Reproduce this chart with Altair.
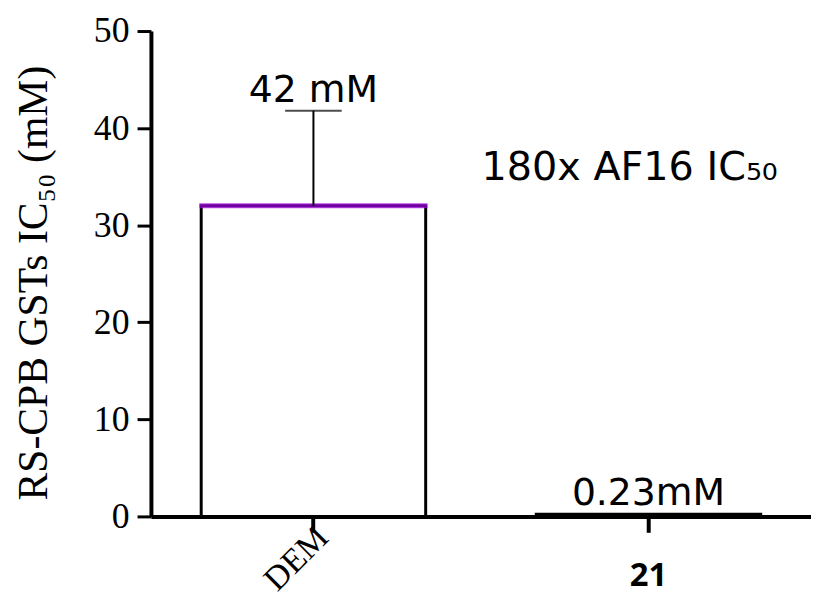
import altair as alt
import pandas as pd

categories = ["DEM", "21"]
means = [32.0, 0.23]
err_top = [41.8, None]
annotations = ["42 mM", "0.23mM"]
ann_y = [41.8, 0.23]
note_text = "180x AF16 IC\u2085\u2080"
note_cat = "21"
note_y = 32.0
y_ticks = [0, 10, 20, 30, 40, 50]

df = pd.DataFrame({"cat": categories, "mean": means})
df_err = pd.DataFrame({"cat": [categories[0]], "lo": [means[0]], "hi": [err_top[0]]})
df_ann = pd.DataFrame({"cat": categories, "y": ann_y, "text": annotations})
df_note = pd.DataFrame({"cat": [note_cat], "y": [note_y], "text": [note_text]})
df_lab = pd.DataFrame({"cat": categories})

W, H = 665, 489

xscale = alt.Scale(domain=categories, paddingInner=0.33, paddingOuter=0.15)
yscale = alt.Scale(domain=[0, 50], nice=False)
xenc = alt.X("cat:N", scale=xscale, sort=categories)

x = alt.X("cat:N", scale=xscale, sort=categories,
          axis=alt.Axis(labels=False, title=None, domainColor="black", domainWidth=4,
                        tickColor="black", tickWidth=4, tickSize=16, grid=False))
y = alt.Y("mean:Q", scale=yscale,
          axis=alt.Axis(values=y_ticks, title="RS-CPB GSTs IC\u2085\u2080 (mM)",
                        titleFont="Liberation Serif", titleFontSize=42, titleFontWeight="normal",
                        titleColor="black", titlePadding=38, titleY=H / 2 + 9,
                        labelFont="Liberation Serif", labelFontSize=36, labelColor="black",
                        labelPadding=8, domainColor="black", domainWidth=4,
                        tickColor="black", tickWidth=3, tickSize=14, grid=False))

bars = alt.Chart(df).mark_bar(fill="white", stroke="black", strokeWidth=3).encode(x=x, y=y)

top_line = alt.Chart(df[df["cat"] == "DEM"]).mark_tick(
    color="#a100e6", thickness=5, size=230, orient="horizontal"
).encode(x=xenc, y=alt.Y("mean:Q", scale=yscale))

err_rule = alt.Chart(df_err).mark_rule(color="black", strokeWidth=2).encode(
    x=xenc, y=alt.Y("lo:Q", scale=yscale), y2="hi:Q")
err_cap = alt.Chart(df_err).mark_tick(color="black", thickness=2, size=57, orient="horizontal").encode(
    x=xenc, y=alt.Y("hi:Q", scale=yscale))

ann = alt.Chart(df_ann).mark_text(font="DejaVu Sans", fontSize=38, color="black",
                                   baseline="alphabetic", dy=-9).encode(
    x=xenc, y=alt.Y("y:Q", scale=yscale), text="text:N")

note = alt.Chart(df_note).mark_text(font="DejaVu Sans", fontSize=40, color="black",
                                    baseline="alphabetic", dx=-19, dy=-26).encode(
    x=xenc, y=alt.Y("y:Q", scale=yscale), text="text:N")

lab_dem = alt.Chart(df_lab[df_lab["cat"] == "DEM"]).mark_text(
    font="Liberation Serif", fontSize=34, color="black", angle=315, align="right",
    baseline="middle", dx=14).encode(
    x=xenc, y=alt.value(H + 26), text="cat:N")
lab_21 = alt.Chart(df_lab[df_lab["cat"] == "21"]).mark_text(
    font="Open Sans", fontSize=33, fontWeight="bold", color="black", baseline="alphabetic").encode(
    x=xenc, y=alt.value(H + 70), text="cat:N")

chart = alt.layer(bars, top_line, err_rule, err_cap, ann, note, lab_dem, lab_21).properties(
    width=W, height=H, padding={"left": 5, "top": 3, "right": 0, "bottom": 0}
).configure(background="white").configure_view(stroke=None)

chart.save("out.html", embed_options={"renderer": "svg", "actions": False})
